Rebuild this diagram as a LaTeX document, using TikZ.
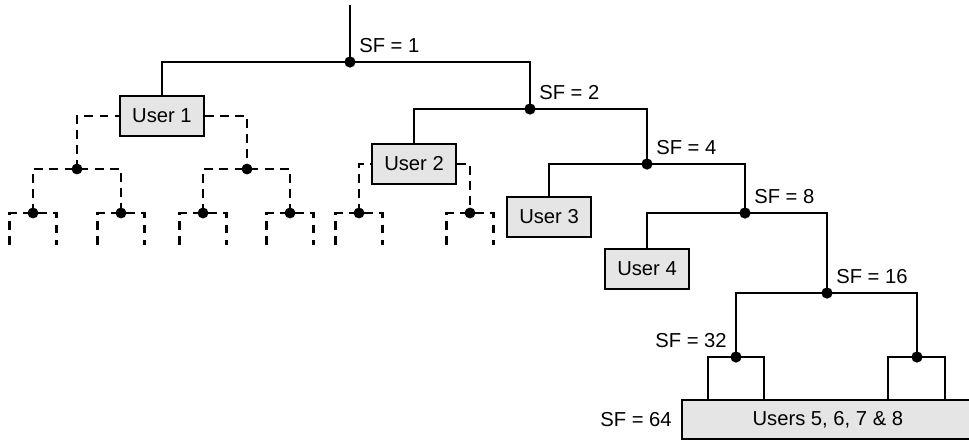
\documentclass[tikz,border=0pt]{standalone}
\usepackage{fontspec}
\setsansfont{Liberation Sans}
\usetikzlibrary{arrows,shapes,positioning,calc}

\begin{document}
\begin{tikzpicture}[x=0.02cm,y=-0.02cm,line width=1.6pt,
  user/.style={draw,line width=1pt,fill=gray!20,font=\sffamily\fontsize{11.5}{13}\selectfont,
    minimum width=1.68cm,minimum height=0.8cm,inner sep=0pt},
  sf/.style={font=\sffamily\fontsize{11.5}{13}\selectfont,inner sep=4.5pt},
  dashline/.style={dash pattern=on 5pt off 3.6pt},
  dot/.style={fill}]
\useasboundingbox (0,0) rectangle (969,440);
\coordinate (top) at (350,5);
\coordinate (p1) at (350,62);
\coordinate (p2) at (530,109);
\coordinate (p3) at (647,164);
\coordinate (p4) at (745,213);
\coordinate (p5) at (827,293);
\coordinate (q1) at (736,357);
\coordinate (q2) at (917,357);
\draw (162,116) node(u1)[user] {User 1};
\draw (414,164) node(u2)[user] {User 2};
\draw (549,217) node(u3)[user] {User 3};
\draw (647,269) node(u4)[user] {User 4};
\draw (681,399) node(u5)[user,anchor=north west,minimum width=5.84cm,minimum height=0.78cm] {Users 5, 6, 7 \& 8};
\draw (top) -- (p1);
\draw (u1) |- (p1) -| (p2);
\draw (u2) |- (p2) -| (p3);
\draw (u3) |- (p3) -| (p4);
\draw (u4) |- (p4) -| (p5);
\draw (q1) |- (p5) -| (q2);
\draw (708,0 |- u5.north) |- (q1) -| (764,0 |- u5.north);
\draw (888,0 |- u5.north) |- (q2) -| (945,0 |- u5.north);
\foreach \p in {p1,p2,p3,p4,p5,q1,q2}
  \fill[dot] (\p) circle (3.2pt);
\path (p1) node[sf,anchor=south west] {SF = 1};
\path (p2) node[sf,anchor=south west] {SF = 2};
\path (p3) node[sf,anchor=south west] {SF = 4};
\path (p4) node[sf,anchor=south west] {SF = 8};
\path (p5) node[sf,anchor=south west] {SF = 16};
\path (q1) node[sf,anchor=south east] {SF = 32};
\path (u5.west) node[sf,anchor=east] {SF = 64};
\coordinate (d1) at (77,169);
\coordinate (d2) at (247,169);
\coordinate (e1) at (33,213);
\coordinate (e2) at (121,213);
\coordinate (e3) at (203,213);
\coordinate (e4) at (290,213);
\coordinate (e5) at (359,213);
\coordinate (e6) at (470,213);
\draw[dashline] (d1) |- (u1) -| (d2);
\draw[dashline] (e1) |- (d1) -| (e2);
\draw[dashline] (e3) |- (d2) -| (e4);
\draw[dashline] (e5) |- (u2) -| (e6);
\foreach \e in {e1,e2,e3,e4,e5,e6}{
  \draw[dashline] ($(\e)+(-23.5,32)$) |- (\e) -| ($(\e)+(23.5,32)$);
}
\foreach \p in {d1,d2,e1,e2,e3,e4,e5,e6}
  \fill[dot] (\p) circle (3.1pt);
\end{tikzpicture}
\end{document}
